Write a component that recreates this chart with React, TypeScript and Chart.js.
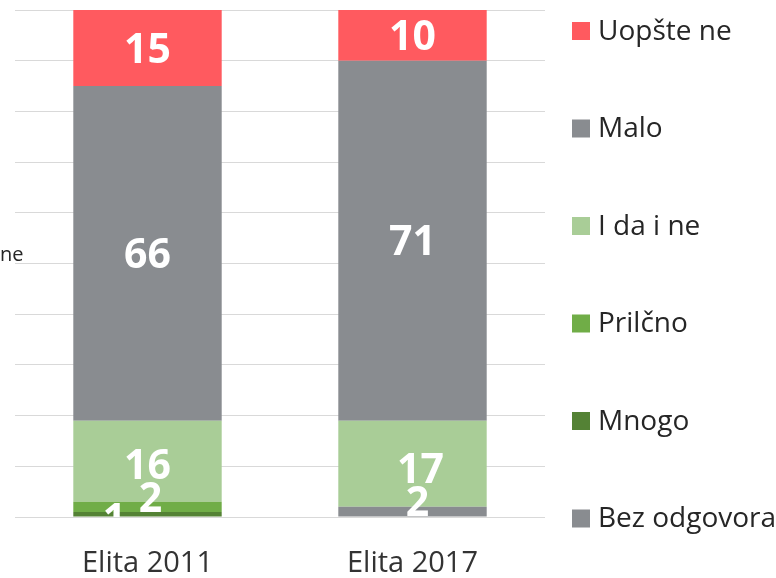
import React, { useEffect, useRef } from 'react';
import { Chart, registerables } from 'chart.js';

Chart.register(...registerables);

const categories = ['Elita 2011', 'Elita 2017'];
const seriesNames = ['Bez odgovora', 'Mnogo', 'Prilčno', 'I da i ne', 'Malo', 'Uopšte ne'];
const bezOdgovora = [0, 2];
const mnogo = [1, 0];
const prilicno = [2, 0];
const daIne = [16, 17];
const malo = [66, 71];
const uopsteNe = [15, 10];
const seriesValues = [bezOdgovora, mnogo, prilicno, daIne, malo, uopsteNe];
const seriesColors = ['#898C90', '#548235', '#70AD47', '#A9CD97', '#898C90', '#FF5A5F'];
const sideText = 'ne';

const FONT = '"Open Sans", "Segoe UI", "DejaVu Sans", sans-serif';

// label nudges (dataset index, category index) -> [dx, dy]
const labelNudges: Record<string, [number, number]> = {
  '1-0': [-33, 4],
  '2-0': [3, -10],
  '3-0': [0, 3],
  '3-1': [8, 5],
  '0-1': [5, -10],
};

const labelsPlugin = {
  id: 'segLabels',
  afterDatasetsDraw(chart: any) {
    const { ctx, chartArea } = chart;
    ctx.save();
    ctx.beginPath();
    ctx.rect(chartArea.left, chartArea.top, chartArea.right - chartArea.left, chartArea.bottom - chartArea.top);
    ctx.clip();
    ctx.fillStyle = '#ffffff';
    ctx.font = `bold 41px ${FONT}`;
    ctx.textAlign = 'center';
    ctx.textBaseline = 'middle';
    chart.data.datasets.forEach((ds: any, di: number) => {
      const meta = chart.getDatasetMeta(di);
      meta.data.forEach((bar: any, ci: number) => {
        const v = ds.data[ci];
        if (!v) return;
        const nudge = labelNudges[`${di}-${ci}`] || [0, 0];
        const cy = (bar.y + bar.base) / 2;
        ctx.fillText(String(v), bar.x + nudge[0], cy + nudge[1] + 3);
      });
    });
    ctx.restore();
  },
};

const legendPlugin = {
  id: 'sideLegend',
  afterDraw(chart: any) {
    const { ctx, chartArea } = chart;
    const items = chart.data.datasets.map((d: any) => ({ label: d.label, color: d.backgroundColor })).reverse();
    const start = chartArea.top + 21;
    const end = chartArea.bottom + 1.5;
    const step = (end - start) / (items.length - 1);
    ctx.save();
    ctx.font = `28px ${FONT}`;
    ctx.textBaseline = 'middle';
    ctx.textAlign = 'left';
    items.forEach((it: any, i: number) => {
      const cy = start + step * i;
      ctx.fillStyle = it.color;
      ctx.fillRect(chartArea.right + 27, cy - 9, 18, 18);
      ctx.fillStyle = '#262626';
      ctx.fillText(it.label, chartArea.right + 53, cy + 1);
    });
    // stray side text on the left
    ctx.font = `20px ${FONT}`;
    ctx.fillStyle = '#262626';
    ctx.fillText(sideText, chartArea.left - 15, (chartArea.top + chartArea.bottom) / 2 - 8);
    ctx.restore();
  },
};

export default function App() {
  const ref = useRef<HTMLCanvasElement>(null);
  useEffect(() => {
    if (!ref.current) return;
    const chart = new Chart(ref.current, {
      type: 'bar',
      data: {
        labels: categories,
        datasets: seriesNames.map((name, i) => ({
          label: name,
          data: seriesValues[i],
          backgroundColor: seriesColors[i],
          borderWidth: 0,
          barPercentage: 0.56,
          categoryPercentage: 1,
        })),
      },
      options: {
        animation: false,
        responsive: false,
        maintainAspectRatio: false,
        devicePixelRatio: 1,
        layout: { padding: { left: 15, right: 231, top: 10, bottom: 0 } },
        plugins: {
          legend: { display: false },
          tooltip: { enabled: false },
        },
        scales: {
          x: {
            stacked: true,
            grid: { display: true, drawOnChartArea: false, drawTicks: true, tickLength: 32, color: 'rgba(0,0,0,0)' },
            border: { display: false },
            ticks: { color: '#333333', font: { family: FONT, size: 29, lineHeight: 1 }, padding: 0 },
          },
          y: {
            stacked: true,
            min: 0,
            max: 100,
            ticks: { display: false, stepSize: 10 },
            grid: { color: '#D9D9D9', lineWidth: 1, drawTicks: false },
            border: { display: false },
          },
        },
      },
      plugins: [labelsPlugin, legendPlugin],
    });
    return () => chart.destroy();
  }, []);
  return (
    <div style={{ position: 'absolute', left: 0, top: 0, width: 776, height: 578, background: '#fff' }}>
      <canvas ref={ref} width={776} height={578} style={{ display: 'block', width: 776, height: 578 }} />
    </div>
  );
}
